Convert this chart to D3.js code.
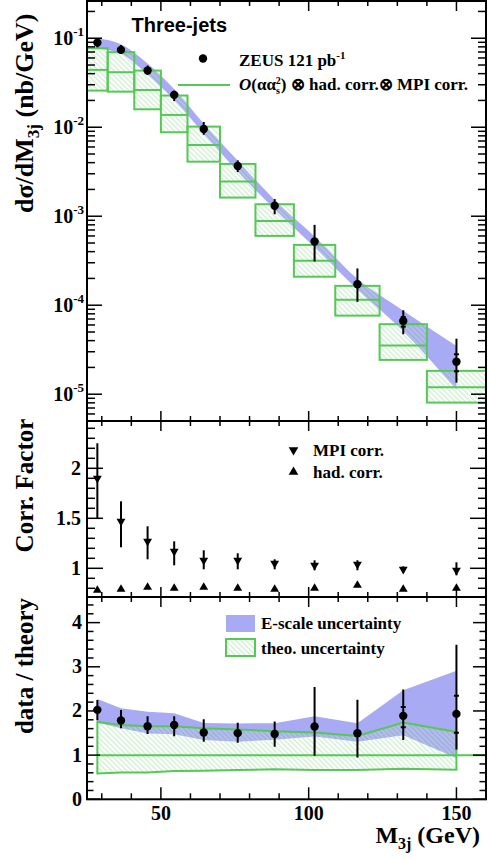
<!DOCTYPE html>
<html>
<head>
<meta charset="utf-8">
<script src="https://cdn.jsdelivr.net/npm/d3@7/dist/d3.min.js"></script>
<style>
  body { margin: 0; background: #fff; }
  text { font-family: "Liberation Serif", "Times New Roman", serif; font-weight: bold; fill: #000; }
</style>
</head>
<body>
<div id="chart"></div>
<script>
  // bins in M3j (GeV)
  var binEdges   = [25, 32, 41, 50, 59, 70, 82, 95, 109, 124, 140, 160];
  var binCentres = [28.5, 36.5, 45.5, 54.5, 64.5, 76, 88.5, 102, 116.5, 132, 150];

  // ZEUS data, dsigma/dM3j (nb/GeV), and the ends of the error bars
  var xsec   = [0.0893, 0.074, 0.0433, 0.0231, 0.00957, 0.00367, 0.00131, 5.19e-4, 1.72e-4, 6.65e-5, 2.32e-5];
  var xsecHi = [0.0992, 0.0838, 0.0493, 0.0258, 0.01144, 0.00424, 0.001558, 8.0e-4, 2.59e-4, 8.76e-5, 4.2e-5];
  var xsecLo = [0.0789, 0.0668, 0.0388, 0.01965, 0.00822, 0.00314, 0.001053, 3.1e-4, 1.09e-4, 4.72e-5, 1.35e-5];
  // inner (stat.) error ticks, only where they stick out of the marker
  var statHi = [null, null, null, null, null, null, null, null, null, 7.36e-5, 2.81e-5];
  var statLo = [null, null, null, null, null, null, null, null, null, 5.74e-5, 1.81e-5];

  // energy scale uncertainty band
  var escHi = [0.1001, 0.0855, 0.0519, 0.0268, 0.01093, 0.00421, 0.001522, 5.92e-4, 1.98e-4, 8.69e-5, 3.49e-5];
  var escLo = [0.0767, 0.0668, 0.0390, 0.0202, 0.00847, 0.00319, 0.001195, 4.47e-4, 1.50e-4, 5.10e-5, 1.12e-5];

  // NLO x had. corr. x MPI corr. with theory uncertainty
  var theoUp  = [0.0772, 0.0697, 0.0433, 0.0227, 0.01016, 0.00387, 0.001364, 4.76e-4, 1.65e-4, 6.12e-5, 1.83e-5];
  var theoMid = [0.0441, 0.0415, 0.0262, 0.01374, 0.00632, 0.00245, 0.000885, 3.15e-4, 1.15e-4, 3.52e-5, 1.20e-5];
  var theoDn  = [0.0258, 0.0251, 0.0159, 0.00878, 0.0041, 0.00162, 0.000601, 2.09e-4, 7.64e-5, 2.43e-5, 8.05e-6];

  // correction factors
  var mpiCorr = [1.90, 1.47, 1.27, 1.17, 1.08, 1.08, 1.05, 1.03, 1.04, 0.99, 0.98];
  var mpiHi   = [2.25, 1.67, 1.42, 1.27, 1.18, 1.15, 1.09, 1.08, 1.08, 1.02, 1.06];
  var mpiLo   = [1.50, 1.21, 1.09, 1.03, 0.99, 0.99, 0.99, 0.98, 0.98, 0.96, 0.93];
  var hadCorr = [0.78, 0.79, 0.81, 0.80, 0.81, 0.80, 0.79, 0.80, 0.83, 0.79, 0.80];

  // ticks
  var xMajor = [50, 100, 150];
  var xMinor = [30, 40, 60, 70, 80, 90, 110, 120, 130, 140];
  var logMajor = [1e-5, 1e-4, 1e-3, 1e-2, 1e-1];
  var corrMajor = [1, 1.5, 2];
  var ratioMajor = [0, 1, 2, 3, 4];

  var green = "#55c855", hatchCol = "#b4e4b4", blue = "#a9aaf4";

  var W = 489, H = 861;
  var left = 87, right = 486;
  var panels = {top: [1, 421], corr: [421, 597], ratio: [597, 799.3]};

  var svg = d3.select("#chart").append("svg")
      .attr("width", W).attr("height", H);

  var defs = svg.append("defs");
  var pat = defs.append("pattern").attr("id", "hatch")
      .attr("patternUnits", "userSpaceOnUse")
      .attr("width", 8).attr("height", 3.6)
      .attr("patternTransform", "rotate(45)");
  pat.append("line").attr("x1", 0).attr("x2", 8).attr("y1", 1.8).attr("y2", 1.8)
      .attr("stroke", hatchCol).attr("stroke-width", 0.9);

  Object.keys(panels).forEach(function(k) {
    defs.append("clipPath").attr("id", "clip-" + k).append("rect")
        .attr("x", left).attr("y", panels[k][0])
        .attr("width", right - left).attr("height", panels[k][1] - panels[k][0]);
  });

  // scales
  var x = d3.scaleLinear().domain([25, 160]).range([left, right]);
  var yTop = d3.scaleLog().domain([5.0e-6, 0.262]).range([421, 1]);
  var yCorr = d3.scaleLinear().domain([0.713, 2.473]).range([597, 421]);
  var yRat = d3.scaleLinear().domain([0, 4.58]).range([799.3, 597]);

  var idx = d3.range(binCentres.length);

  // ---------- top panel ----------
  var gTop = svg.append("g").attr("clip-path", "url(#clip-top)");

  gTop.append("path")
      .attr("d", d3.area()
        .x(function(i) { return x(binCentres[i]); })
        .y0(function(i) { return yTop(escLo[i]); })
        .y1(function(i) { return yTop(escHi[i]); })
        .curve(d3.curveMonotoneX)(idx))
      .style("fill", blue);

  gTop.selectAll("rect.theo").data(idx).enter().append("rect")
      .attr("class", "theo")
      .attr("x", function(i) { return x(binEdges[i]); })
      .attr("width", function(i) { return x(binEdges[i + 1]) - x(binEdges[i]); })
      .attr("y", function(i) { return yTop(theoUp[i]); })
      .attr("height", function(i) { return yTop(theoDn[i]) - yTop(theoUp[i]); })
      .style("fill", "url(#hatch)")
      .style("stroke", green).style("stroke-width", 2);

  gTop.selectAll("line.theoMid").data(idx).enter().append("line")
      .attr("class", "theoMid")
      .attr("x1", function(i) { return x(binEdges[i]); })
      .attr("x2", function(i) { return x(binEdges[i + 1]); })
      .attr("y1", function(i) { return yTop(theoMid[i]); })
      .attr("y2", function(i) { return yTop(theoMid[i]); })
      .style("stroke", green).style("stroke-width", 2);

  gTop.selectAll("line.err").data(idx).enter().append("line")
      .attr("class", "err")
      .attr("x1", function(i) { return x(binCentres[i]); })
      .attr("x2", function(i) { return x(binCentres[i]); })
      .attr("y1", function(i) { return yTop(xsecHi[i]); })
      .attr("y2", function(i) { return yTop(xsecLo[i]); })
      .style("stroke", "#000").style("stroke-width", 2);

  function statTicks(g, yfun, arr) {
    g.selectAll(null).data(idx.filter(function(i) { return arr[i] != null; })).enter().append("line")
        .attr("x1", function(i) { return x(binCentres[i]) - 2.5; })
        .attr("x2", function(i) { return x(binCentres[i]) + 2.5; })
        .attr("y1", function(i) { return yfun(i, arr); })
        .attr("y2", function(i) { return yfun(i, arr); })
        .style("stroke", "#000").style("stroke-width", 2);
  }
  statTicks(gTop, function(i, a) { return yTop(a[i]); }, statHi);
  statTicks(gTop, function(i, a) { return yTop(a[i]); }, statLo);

  gTop.selectAll("circle.pt").data(idx).enter().append("circle")
      .attr("class", "pt")
      .attr("cx", function(i) { return x(binCentres[i]); })
      .attr("cy", function(i) { return yTop(xsec[i]); })
      .attr("r", 4.2).style("fill", "#000");

  // legend top
  svg.append("text").attr("x", 131.5).attr("y", 31.5)
      .style("font-family", "'Liberation Sans', Arial, sans-serif")
      .style("font-size", "20px").text("Three-jets");
  svg.append("circle").attr("cx", 203).attr("cy", 58.5).attr("r", 4.2).style("fill", "#000");
  var t1 = svg.append("text").attr("x", 239).attr("y", 65.5).style("font-size", "17px");
  t1.append("tspan").text("ZEUS 121 pb");
  t1.append("tspan").attr("dy", -7).style("font-size", "11px").text("-1");

  svg.append("line").attr("x1", 178).attr("x2", 230).attr("y1", 85).attr("y2", 85)
      .style("stroke", green).style("stroke-width", 2);
  var t2 = svg.append("text").attr("x", 239).attr("y", 90).style("font-size", "17px");
  t2.append("tspan").style("font-style", "italic").text("O");
  t2.append("tspan").text("(\u03b1\u03b1");
  t2.append("tspan").attr("dy", 4).style("font-size", "10px").text("s");
  t2.append("tspan").attr("dx", -4).attr("dy", -10).style("font-size", "10px").text("2");
  t2.append("tspan").attr("dy", 6).text(") \u2297 had. corr.\u2297 MPI corr.");

  // ---------- correction panel ----------
  var gCorr = svg.append("g").attr("clip-path", "url(#clip-corr)");

  gCorr.selectAll("line.mpiErr").data(idx).enter().append("line")
      .attr("class", "mpiErr")
      .attr("x1", function(i) { return x(binCentres[i]); })
      .attr("x2", function(i) { return x(binCentres[i]); })
      .attr("y1", function(i) { return yCorr(mpiHi[i]); })
      .attr("y2", function(i) { return yCorr(mpiLo[i]); })
      .style("stroke", "#000").style("stroke-width", 2);

  var triDown = d3.symbol().type(d3.symbolTriangle).size(34);
  gCorr.selectAll("path.mpi").data(idx).enter().append("path")
      .attr("class", "mpi")
      .attr("d", triDown)
      .attr("transform", function(i) { return "translate(" + x(binCentres[i]) + "," + yCorr(mpiCorr[i]) + ") rotate(180)"; })
      .style("fill", "#000");

  gCorr.selectAll("path.had").data(idx).enter().append("path")
      .attr("class", "had")
      .attr("d", triDown)
      .attr("transform", function(i) { return "translate(" + x(binCentres[i]) + "," + yCorr(hadCorr[i]) + ")"; })
      .style("fill", "#000");

  svg.append("path").attr("d", d3.symbol().type(d3.symbolTriangle).size(40))
      .attr("transform", "translate(293.5,450) rotate(180)").style("fill", "#000");
  svg.append("path").attr("d", d3.symbol().type(d3.symbolTriangle).size(40))
      .attr("transform", "translate(293.5,472)").style("fill", "#000");
  svg.append("text").attr("x", 313).attr("y", 455.5).style("font-size", "17px").text("MPI corr.");
  svg.append("text").attr("x", 313).attr("y", 477.5).style("font-size", "17px").text("had. corr.");

  // ---------- ratio panel ----------
  var gRat = svg.append("g").attr("clip-path", "url(#clip-ratio)");

  gRat.append("path")
      .attr("d", d3.area()
        .x(function(i) { return x(binCentres[i]); })
        .y0(function(i) { return yRat(escLo[i] / theoMid[i]); })
        .y1(function(i) { return yRat(escHi[i] / theoMid[i]); })(idx))
      .style("fill", blue);

  var theoPoly = idx.map(function(i) { return [x(binCentres[i]), yRat(theoUp[i] / theoMid[i])]; })
      .concat(idx.slice().reverse().map(function(i) { return [x(binCentres[i]), yRat(theoDn[i] / theoMid[i])]; }));
  gRat.append("path")
      .attr("d", d3.line()(theoPoly) + "Z")
      .style("fill", "url(#hatch)")
      .style("stroke", green).style("stroke-width", 2);
  gRat.append("line")
      .attr("x1", x(binCentres[0])).attr("x2", x(160))
      .attr("y1", yRat(1)).attr("y2", yRat(1))
      .style("stroke", green).style("stroke-width", 2);

  gRat.selectAll("line.err").data(idx).enter().append("line")
      .attr("class", "err")
      .attr("x1", function(i) { return x(binCentres[i]); })
      .attr("x2", function(i) { return x(binCentres[i]); })
      .attr("y1", function(i) { return yRat(xsecHi[i] / theoMid[i]); })
      .attr("y2", function(i) { return yRat(xsecLo[i] / theoMid[i]); })
      .style("stroke", "#000").style("stroke-width", 2);
  statTicks(gRat, function(i, a) { return yRat(a[i] / theoMid[i]); }, statHi);
  statTicks(gRat, function(i, a) { return yRat(a[i] / theoMid[i]); }, statLo);

  gRat.selectAll("circle.pt").data(idx).enter().append("circle")
      .attr("class", "pt")
      .attr("cx", function(i) { return x(binCentres[i]); })
      .attr("cy", function(i) { return yRat(xsec[i] / theoMid[i]); })
      .attr("r", 4.2).style("fill", "#000");

  // legend ratio
  svg.append("rect").attr("x", 226).attr("y", 615).attr("width", 29).attr("height", 17).style("fill", blue);
  svg.append("rect").attr("x", 226).attr("y", 639).attr("width", 29).attr("height", 17)
      .style("fill", "url(#hatch)").style("stroke", green).style("stroke-width", 2);
  svg.append("text").attr("x", 261).attr("y", 628.5).style("font-size", "17px").text("E-scale uncertainty");
  svg.append("text").attr("x", 261).attr("y", 653.5).style("font-size", "17px").text("theo. uncertainty");

  // ---------- axes ----------
  function yTicks(scale, major, minor, y0, y1, lenMaj, lenMin) {
    var g = svg.append("g");
    [[left, 1], [right, -1]].forEach(function(side) {
      g.selectAll(null).data(major).enter().append("line")
          .attr("x1", side[0]).attr("x2", side[0] + side[1] * lenMaj)
          .attr("y1", function(d) { return scale(d); }).attr("y2", function(d) { return scale(d); });
      g.selectAll(null).data(minor).enter().append("line")
          .attr("x1", side[0]).attr("x2", side[0] + side[1] * lenMin)
          .attr("y1", function(d) { return scale(d); }).attr("y2", function(d) { return scale(d); });
    });
    g.selectAll("line").style("stroke", "#000").style("stroke-width", 1.5);
  }
  function xTicks(y, dir, lenMaj, lenMin) {
    var g = svg.append("g");
    g.selectAll(null).data(xMajor).enter().append("line")
        .attr("x1", function(d) { return x(d); }).attr("x2", function(d) { return x(d); })
        .attr("y1", y).attr("y2", y + dir * lenMaj);
    g.selectAll(null).data(xMinor).enter().append("line")
        .attr("x1", function(d) { return x(d); }).attr("x2", function(d) { return x(d); })
        .attr("y1", y).attr("y2", y + dir * lenMin);
    g.selectAll("line").style("stroke", "#000").style("stroke-width", 1.5);
  }

  // log minor ticks
  var logMinor = [];
  logMajor.concat([1e-6]).forEach(function(p) {
    for (var m = 2; m <= 9; m++) {
      var v = m * p;
      if (v > yTop.domain()[0] && v < yTop.domain()[1]) logMinor.push(v);
    }
  });
  yTicks(yTop, logMajor, logMinor, 1, 421, 15, 8);
  yTicks(yCorr, corrMajor, d3.range(8, 25).map(function(d) { return d / 10; }).filter(function(d) { return corrMajor.indexOf(d) < 0; }), 421, 597, 16, 8);
  yTicks(yRat, ratioMajor, d3.range(1, 23).map(function(d) { return d / 5; }).filter(function(d) { return d % 1 !== 0; }), 597, 799, 13, 6.5);

  xTicks(1, 1, 10, 5);
  xTicks(421, -1, 10, 5);
  xTicks(421, 1, 10, 5);
  xTicks(597, -1, 10, 5);
  xTicks(597, 1, 10, 5);
  xTicks(799.3, -1, 12, 6);

  // frames
  Object.keys(panels).forEach(function(k) {
    svg.append("rect")
        .attr("x", left).attr("y", panels[k][0])
        .attr("width", right - left).attr("height", panels[k][1] - panels[k][0])
        .style("fill", "none").style("stroke", "#000").style("stroke-width", 2);
  });

  // tick labels
  logMajor.forEach(function(d) {
    var t = svg.append("text").attr("x", 84).attr("y", yTop(d) + 7)
        .attr("text-anchor", "end").style("font-size", "20px");
    t.append("tspan").text("10");
    t.append("tspan").attr("dy", -9).style("font-size", "13px").text(String(Math.round(Math.log10(d))));
  });
  svg.selectAll(null).data(corrMajor).enter().append("text")
      .attr("x", 81).attr("y", function(d) { return yCorr(d) + 6.5; })
      .attr("text-anchor", "end").style("font-size", "20px")
      .text(function(d) { return d; });
  svg.selectAll(null).data(ratioMajor).enter().append("text")
      .attr("x", 82).attr("y", function(d) { return yRat(d) + 6.5; })
      .attr("text-anchor", "end").style("font-size", "20px")
      .text(function(d) { return d; });
  svg.selectAll(null).data(xMajor).enter().append("text")
      .attr("x", function(d) { return x(d); }).attr("y", 820)
      .attr("text-anchor", "middle").style("font-size", "20px")
      .text(function(d) { return d; });

  // axis titles
  var yt = svg.append("text").attr("transform", "translate(33,213) rotate(-90)")
      .style("font-size", "26px");
  yt.append("tspan").text("d\u03c3/dM");
  yt.append("tspan").attr("dy", 6).style("font-size", "17px").text("3j");
  yt.append("tspan").attr("dy", -6).text(" (nb/GeV)");

  svg.append("text").attr("transform", "translate(33,485.5) rotate(-90)")
      .attr("text-anchor", "middle").style("font-size", "25px").text("Corr. Factor");
  svg.append("text").attr("transform", "translate(33,666) rotate(-90)")
      .attr("text-anchor", "middle").style("font-size", "25px").text("data / theory");

  var xt = svg.append("text").attr("x", 480).attr("y", 843)
      .attr("text-anchor", "end").style("font-size", "24px");
  xt.append("tspan").text("M");
  xt.append("tspan").attr("dy", 6).style("font-size", "16px").text("3j");
  xt.append("tspan").attr("dy", -6).text(" (GeV)");
</script>
</body>
</html>
